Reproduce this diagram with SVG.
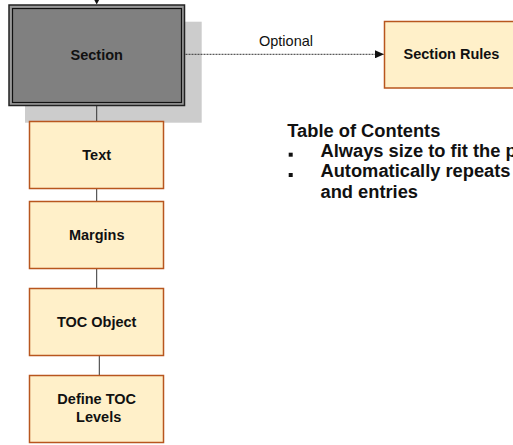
<svg xmlns="http://www.w3.org/2000/svg" width="513" height="445" viewBox="0 0 513 445">
<style>
.box{fill:#FFF0C9;stroke:#B8561E;stroke-width:1.5}
.lbl{font-family:"Liberation Sans",Arial,sans-serif;font-weight:bold;font-size:14.5px;fill:#111;text-anchor:middle}
.conn{stroke:#333;stroke-width:1;fill:none}
.note{font-family:"Liberation Sans",Arial,sans-serif;font-weight:bold;font-size:18.3px;fill:#111}
</style>
<defs>
<marker id="arr" markerWidth="9" markerHeight="8" refX="9" refY="4" orient="auto" markerUnits="userSpaceOnUse">
<path d="M0,0 L9,4 L0,8 Z" fill="#111"/>
</marker>
</defs>
<rect x="25" y="21.7" width="176.7" height="101" fill="#CCCCCC"/>
<g id="connectors">
<line class="conn" x1="96.7" y1="0" x2="96.7" y2="2"/>
<polygon points="93.8,-1 99.6,-1 96.7,4.5" fill="#111"/>
<line class="conn" x1="96.7" y1="105" x2="96.7" y2="121"/>
<line class="conn" x1="96.7" y1="188.7" x2="96.7" y2="201"/>
<line class="conn" x1="96.7" y1="268.7" x2="96.7" y2="288.3"/>
<line class="conn" x1="99.3" y1="355.3" x2="99.3" y2="375"/>
<line x1="185.5" y1="54.3" x2="384" y2="54.3" stroke="#333" stroke-width="1" stroke-dasharray="2,1" marker-end="url(#arr)"/>
<text x="286" y="46" font-family="'Liberation Sans',Arial,sans-serif" font-size="14.5px" fill="#111" text-anchor="middle">Optional</text>
</g>
<g id="section">
<rect x="9" y="5" width="175.5" height="100.5" fill="#9a9a9a" stroke="#222" stroke-width="1.5"/>
<rect x="12.5" y="8.5" width="169" height="94" fill="#808080" stroke="#111" stroke-width="1.2"/>
<text class="lbl" x="96.7" y="60">Section</text>
</g>
<g id="section-rules">
<rect class="box" x="384.5" y="21.5" width="135" height="66.5"/>
<text class="lbl" x="451.5" y="59.3">Section Rules</text>
</g>
<g id="text">
<rect class="box" x="29.5" y="121.5" width="134" height="67"/>
<text class="lbl" x="96.7" y="159.5">Text</text>
</g>
<g id="margins">
<rect class="box" x="29.5" y="201.5" width="134" height="67"/>
<text class="lbl" x="96.7" y="240">Margins</text>
</g>
<g id="toc-object">
<rect class="box" x="29.5" y="288.5" width="134" height="67"/>
<text class="lbl" x="96.7" y="327">TOC Object</text>
</g>
<g id="define-toc-levels">
<rect class="box" x="29.5" y="375.5" width="134" height="67"/>
<text class="lbl" x="96.7" y="404">Define TOC</text>
<text class="lbl" x="98.7" y="421.7">Levels</text>
</g>
<g id="notes">
<text class="note" x="287.3" y="136.7">Table of Contents</text>
<rect x="288.7" y="152.7" width="4" height="4" fill="#111"/>
<text class="note" x="320.5" y="157">Always size to fit the p</text>
<rect x="288.7" y="173" width="4" height="4" fill="#111"/>
<text class="note" x="320.5" y="177.3">Automatically repeats</text>
<text class="note" x="320.5" y="197.6">and entries</text>
</g>
</svg>
